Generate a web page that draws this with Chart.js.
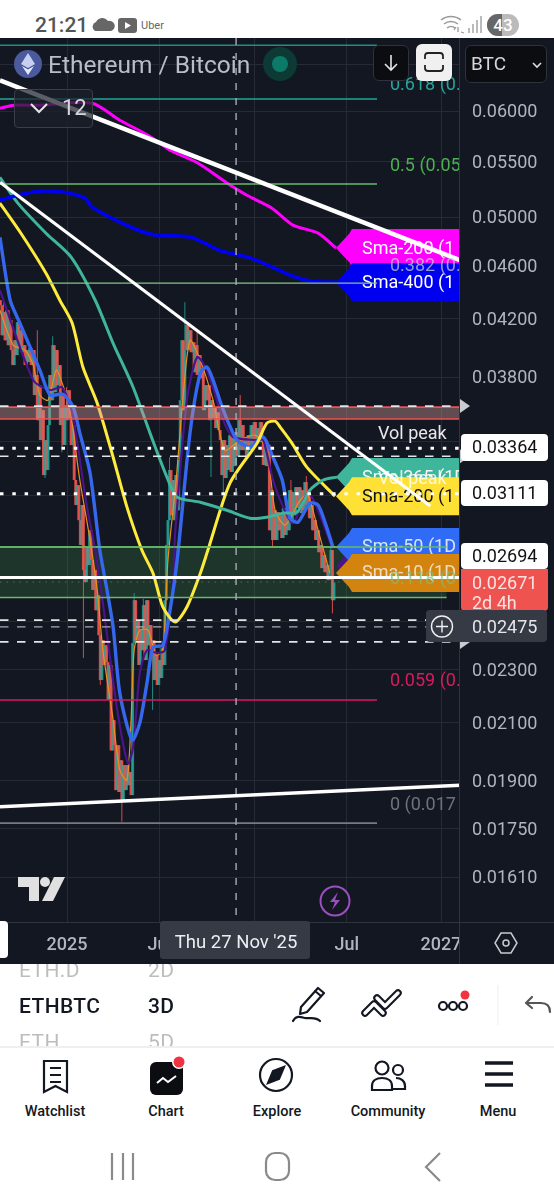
<!DOCTYPE html>
<html>
<head>
<meta charset="utf-8">
<title>ETHBTC</title>
<script src="https://cdn.jsdelivr.net/npm/chart.js@4/dist/chart.umd.min.js"></script>
<style>
  * { box-sizing: border-box; }
  html, body { margin: 0; padding: 0; background: #fff; font-family: Roboto, sans-serif; overflow: hidden; }
  #page { position: relative; width: 554px; height: 1200px; overflow: hidden; }
  #chartBox { position: absolute; left: 0; top: 38px; width: 554px; height: 926px; background: #131722; }
  canvas { display: block; }
  .abs { position: absolute; }
  .time { left: 35px; top: 13px; font-size: 21px; font-weight: 500; color: #555; }
  .uber { left: 141px; top: 19px; font-size: 11px; color: #666; }
  .pair { left: 48px; top: 50px; font-size: 24.5px; color: #b9bdc8; }
  .btn { border: 1px solid #2e323c; border-radius: 6px; background: #0c0d10; }
  .btc { left: 471px; top: 52px; font-size: 19px; color: #d6d8de; }
  .count { left: 14px; top: 89px; width: 79px; height: 39px; border: 1px solid #3a3e49; border-radius: 4px; background: rgba(28,32,42,.72); }
  .row { font-size: 21px; color: #131722; font-weight: 500; letter-spacing: .4px; }
  .ghost { color: #bdbdbd; font-weight: 400; }
  .nav { top: 1103px; width: 110px; text-align: center; font-size: 14.5px; font-weight: 500; color: #131722; }
</style>
</head>
<body>
<div id="page">
  <div class="abs time">21:21</div>
  <svg class="abs" style="left:92px;top:14px" width="50" height="22">
    <path d="M3 17a5 5 0 0 1 1-9 7 7 0 0 1 12-1 5 5 0 0 1 3 10z" fill="#666"/>
    <rect x="26" y="4" width="19" height="15" rx="3" fill="#666"/><path d="M33 8l6 3.5-6 3.5z" fill="#fff"/>
  </svg>
  <div class="abs uber">Uber</div>
  <svg class="abs" style="left:438px;top:12px" width="84" height="26">
    <g fill="none" stroke="#999" stroke-width="1.5"><path d="M3 8a16 16 0 0 1 20 0M6 12a11 11 0 0 1 14 0M9 16a6 6 0 0 1 8 0"/></g>
    <path d="M20 20v-5M23 20l3 1M16 18l2-3" stroke="#999" stroke-width="1.3"/>
    <g fill="#bbb"><rect x="30" y="16" width="2" height="5"/><rect x="34" y="12" width="2" height="9"/><rect x="38" y="8" width="2" height="13"/><rect x="42" y="4" width="2" height="17"/></g>
    <rect x="49" y="2" width="32" height="22" rx="11" fill="#bbb"/><path d="M60 2a11 11 0 0 0 0 22h4V2z" fill="#666"/>
    <text x="65" y="19" text-anchor="middle" font-family="Roboto" font-size="17" font-weight="500" fill="#fff">43</text>
  </svg>

  <div id="chartBox"><canvas id="chart" width="554" height="926"></canvas></div>

  <!-- header controls sitting over the plot -->
  <svg class="abs" style="left:13px;top:49px" width="30" height="30">
    <circle cx="15" cy="15" r="14" fill="#4a5a9c"/>
    <path d="M15 4l7 11-7 4-7-4z" fill="#c6d0f2"/><path d="M15 20.5l6-3.5-6 9-6-9z" fill="#e6ebfb"/>
  </svg>
  <div class="abs pair">Ethereum / Bitcoin</div>
  <svg class="abs" style="left:262px;top:46px" width="36" height="36">
    <circle cx="18" cy="18" r="17" fill="#0d3a34"/><circle cx="18" cy="18" r="8" fill="#0b7a68"/>
  </svg>
  <div class="abs btn" style="left:373px;top:45px;width:36px;height:36px"></div>
  <svg class="abs" style="left:381px;top:53px" width="20" height="20"><path d="M10 2v15M4 11l6 6 6-6" fill="none" stroke="#e6e6e6" stroke-width="1.6"/></svg>
  <div class="abs" style="left:416px;top:44px;width:36px;height:37px;border-radius:6px;background:#f0f0f0"></div>
  <svg class="abs" style="left:424px;top:52px" width="20" height="20"><path d="M1 7V4a3 3 0 0 1 3-3h12a3 3 0 0 1 3 3v3M1 13v3a3 3 0 0 0 3 3h12a3 3 0 0 0 3-3v-3" fill="none" stroke="#222" stroke-width="1.8"/></svg>
  <div class="abs btn" style="left:465px;top:45px;width:82px;height:38px"></div>
  <div class="abs btc">BTC</div>
  <svg class="abs" style="left:531px;top:60px" width="12" height="10"><path d="M2 3l4 4 4-4" fill="none" stroke="#ddd" stroke-width="1.6"/></svg>
  <div class="abs count"></div>
  <svg class="abs" style="left:30px;top:102px" width="18" height="14"><path d="M1 2l8 8 8-8" fill="none" stroke="#e6e6e6" stroke-width="2"/></svg>
  <div class="abs" style="left:62px;top:95px;font-size:22px;color:#d6d8de">12</div>

  <!-- watermark and replay badge -->
  <svg class="abs" style="left:18px;top:876px" width="48" height="27">
    <path d="M0 1h21v24h-10V11H0z" fill="#e0e0e0"/><circle cx="27" cy="6" r="5" fill="#e0e0e0"/><path d="M36 1h11L35 25H24z" fill="#e0e0e0"/>
  </svg>
  <svg class="abs" style="left:319px;top:885px" width="32" height="32">
    <circle cx="16" cy="16" r="14.5" fill="#131722" stroke="#9c4fc0" stroke-width="2"/>
    <path d="M19 7l-8 10h5l-3 8 8-10h-5z" fill="#9c4fc0"/>
  </svg>
  <div class="abs" style="left:0;top:921px;width:8px;height:37px;background:#fff;border-radius:0 4px 4px 0"></div>
  <svg class="abs" style="left:494px;top:931px" width="24" height="24"><path d="M7 2h10l6 10-6 10H7L1 12z" fill="none" stroke="#c8cad0" stroke-width="1.5"/><circle cx="12" cy="12" r="3" fill="none" stroke="#c8cad0" stroke-width="1.5"/></svg>

  <!-- symbol picker row -->
  <div class="abs" style="left:0;top:964px;width:290px;height:82px;overflow:hidden">
    <div class="abs row ghost" style="left:19px;top:-6px">ETH.D</div>
    <div class="abs row ghost" style="left:148px;top:-6px">2D</div>
    <div class="abs row" style="left:19px;top:30px">ETHBTC</div>
    <div class="abs row" style="left:148px;top:30px">3D</div>
    <div class="abs row ghost" style="left:19px;top:66px">ETH</div>
    <div class="abs row ghost" style="left:148px;top:66px">5D</div>
  </div>
  <svg class="abs" style="left:285px;top:985px" width="269" height="40">
    <g fill="none" stroke="#131722" stroke-width="2.2" stroke-linejoin="round" stroke-linecap="round">
      <path d="M16 22L33 3l6 5-17 19-7 2zM30 6l6 5"/>
      <path d="M8 36c3-6 8-4 12-3s10-2 15 3"/>
      <path d="M80 28l9-9 9 9M92 13l8 8 13-13" stroke-width="7.5"/>
      <path d="M80 28l9-9 9 9M92 13l8 8 13-13" stroke="#fff" stroke-width="3.4"/>
      <circle cx="158" cy="21" r="4"/><circle cx="168" cy="21" r="4"/><circle cx="178" cy="21" r="4"/>
      <path d="M247 12l-6 6 6 5M241 18h15c6 0 9 3 9 9" stroke="#555"/>
    </g>
    <circle cx="180" cy="10" r="4.5" fill="#ef3340"/>
    <path d="M213 0v40" stroke="#eee"/>
  </svg>
  <div class="abs" style="left:0;top:1046px;width:554px;height:2px;background:#efefef"></div>

  <!-- bottom navigation -->
  <svg class="abs" style="left:0;top:1055px" width="554" height="42">
    <g fill="none" stroke="#131722" stroke-width="2.2">
      <path d="M44 6h23v31l-11.500-6L44 37zM50 13h11M50 20h11M50 27h11"/>
      <circle cx="276" cy="20" r="16"/>
      <path d="M284 12l-5 12-11 4 5-12z" fill="#131722"/>
      <circle cx="382" cy="13" r="6.500"/><circle cx="398" cy="15" r="5"/>
      <path d="M372 35v-4c0-5 4-8 10-8s10 3 10 8v4zM396 23c5 0 9 3 9 8v3h-12"/>
    </g>
    <rect x="150" y="7" width="33" height="33" rx="6" fill="#0c0d10"/>
    <path d="M157 28l6-5 5 4 8-6" fill="none" stroke="#fff" stroke-width="2"/>
    <circle cx="179" cy="7" r="7" fill="#fff"/><circle cx="179" cy="7" r="5.500" fill="#ef3340"/>
    <path d="M485 8h28M485 19h28M485 30h28" stroke="#131722" stroke-width="3.500"/>
  </svg>
  <div class="abs nav" style="left:0">Watchlist</div>
  <div class="abs nav" style="left:111px">Chart</div>
  <div class="abs nav" style="left:222px">Explore</div>
  <div class="abs nav" style="left:333px">Community</div>
  <div class="abs nav" style="left:443px">Menu</div>
  <svg class="abs" style="left:100px;top:1150px" width="350" height="34">
    <g fill="none" stroke="#8a8a8a" stroke-width="2.2">
      <path d="M12 3v27M23 3v27M33 3v27"/>
      <rect x="166" y="3" width="23" height="27" rx="9"/>
      <path d="M340 3l-14 14 14 14"/>
    </g>
  </svg>
</div>

<script>
// ETH/BTC on 3-day bars; x is days counted from 1 Jan 2025
const firstBarDay = -130;
const barStep = 3;

const closes = [
  .04300,.04084,.04249,.04049,.04263,.04015,.04191,.03981,.03880,.04049,.03947,.04177,.03994,.04119,
  .03967,.04015,.03880,.03981,.03900,.03994,.03880,.03981,.03685,.03814,.03530,.03748,.03411,.03591,
  .03212,.03411,.03240,.03500,.03814,.03653,.04015,.03704,.03981,.03748,.03880,.03500,.03685,.03382,
  .03622,.03530,.03716,.03542,.03382,.03500,.03185,.03051,.03157,.02973,.02849,.03051,.02729,.02673,
  .02834,.02752,.02922,.02776,.02637,.02729,.02547,.02614,.02440,.02259,.02419,.02318,.02398,.02330,
  .02183,.02318,.02002,.02109,.02020,.01870,.02020,.01864,.01968,.01838,.01952,.01870,.01952,.01886,
  .01929,.01854,.02407,.02591,.02419,.02504,.02318,.02461,.02378,.02569,.02338,.02591,.02398,.02483,
  .02358,.02419,.02259,.02358,.02240,.02338,.02267,.02386,.02318,.02591,.02849,.02973,.03240,.02998,
  .03185,.02973,.03212,.03024,.03296,.03653,.04049,.03591,.03981,.04155,.03981,.04119,.03967,.04035,
  .03833,.04015,.03814,.03947,.03794,.03860,.03591,.03748,.03653,.03748,.03530,.03653,.03542,.03604,
  .03482,.03579,.03470,.03411,.03212,.03411,.03196,.03382,.03240,.03440,.03229,.03440,.03262,.03458,
  .03318,.03530,.03353,.03500,.03353,.03411,.03318,.03440,.03353,.03500,.03382,.03518,.03393,.03482,
  .03399,.03518,.03411,.03268,.03411,.03262,.03382,.02922,.03130,.02873,.03024,.02873,.03014,.02922,
  .02998,.02883,.03035,.02898,.03024,.02922,.03130,.02973,.03120,.02998,.03146,.03035,.03146,.03009,
  .03130,.03024,.03174,.03051,.03104,.02983,.03051,.02922,.02973,.02873,.02922,.02814,.02849,.02738,
  .02800,.02719,.02752,.02682,.02729,.02824,.02591,.02671
];
const firstOpen = .04337;

// wicks that reach clearly past the body
const wickBars  = [2, 24, 29, 34, 40, 43, 54, 65, 79, 87, 93, 99, 110, 120, 128, 137, 145, 156, 177, 189, 199, 215, 216];
const wickHighs = [.04337, .04119, null, .04077, null, .03735, null, null, null, .02623, .02598, null, .03312, .04322, .04119, null, null, .03685, null, .03185, .03207, .02839, null];
const wickLows  = [null, null, .03196, null, .03340, null, .02346, .02240, .01771, null, null, .02146, null, null, null, .03201, .03093, null, .02834, null, null, null, .02534];

// moving averages: day and price pairs
const sma400Days = [-131, -96, -55, -6, 35, 49, 125, 172, 242, 297, 359, 435, 476, 527];
const sma400Vals = [.05150, .05194, .05230, .05221, .05168, .05088, .04916, .04851, .04833, .04726, .04662, .04529, .04481, .04473];
const sma200wDays = [-131, -103, -53, 49, 103, 158, 201, 256, 310, 351, 400, 441, 490, 525];
const sma200wVals = [.06031, .06062, .06062, .06083, .05908, .05758, .05612, .05487, .05311, .05194, .05080, .04934, .04867, .04744];
const sma365Days = [-131, -96, -41, 8, 55, 90, 129, 162, 195, 215, 260, 312, 357, 390, 422, 449, 474, 500, 527];
const sma365Vals = [.05357, .05124, .04866, .04670, .04337, .04028, .03735, .03452, .03201, .03093, .03066, .03024, .02983, .02988, .03009, .03014, .03130, .03185, .03201];
const sma200Days = [-131, -90, -41, -14, 10, 31, 59, 90, 117, 146, 168, 187, 211, 234, 260, 275, 318, 371, 390, 406, 416, 439, 468, 523];
const sma200Vals = [.05124, .04866, .04543, .04337, .04170, .03867, .03634, .03312, .03040, .02824, .02713, .02561, .02496, .02561, .02713, .02824, .03168, .03393, .03512, .03524, .03488, .03393, .03256, .03098];
const sma50Days = [-131, -111, -92, -72, -53, -33, -8, 12, 25, 45, 64, 78, 90, 103, 127, 142, 156, 168, 187, 201, 215, 240, 260, 273, 285, 305, 332, 357, 383, 402, 420, 435, 451, 474, 490, 504, 519];
const sma50Vals = [.04833, .04337, .04170, .04001, .03847, .03685, .03691, .03610, .03452, .03223, .02824, .02637, .02474, .02209, .02038, .02098, .02247, .02390, .02398, .02547, .02776, .03452, .03827, .03867, .03781, .03591, .03411, .03370, .03429, .03312, .03185, .02983, .02963, .03061, .03051, .02958, .02839];
const sma20Days = [-131, -66, -33, -10, 10, 39, 55, 70, 98, 119, 129, 142, 156, 176, 191, 207, 211, 234, 254, 273, 305, 324, 371, 383, 402, 422, 441, 470, 490, 517];
const sma20Vals = [.04412, .03781, .03716, .03735, .03573, .03040, .02824, .02578, .02146, .01958, .02013, .02286, .02378, .02366, .02378, .02669, .02907, .03653, .03933, .03847, .03530, .03429, .03411, .03411, .03185, .03040, .02958, .03115, .03024, .02839];
const sma10Days = [-131, -105, -82, -66, -53, -37, -21, -8, 6, 25, 45, 59, 70, 90, 103, 117, 125, 131, 142, 158, 174, 187, 197, 213, 226, 240, 260, 285, 308, 338, 367, 390, 406, 426, 455, 470, 490, 513];
const sma10Vals = [.04263, .04015, .03981, .03880, .03685, .03653, .03847, .03748, .03591, .03185, .02873, .02637, .02378, .02109, .01935, .01902, .02109, .02378, .02461, .02461, .02358, .02378, .02776, .03185, .03653, .04049, .03913, .03653, .03353, .03411, .03440, .03353, .03024, .02948, .03077, .03104, .02922, .02715];

// drawn trend lines, [left price, right price]
const upperTrend = [.06328, .04646];
const innerTrend = [.05311, .03046];
const innerTrendEndDay = 709;
const lowerTrend = [.01817, .01886];

// fib levels and drawn price levels
const fibLevels = { f618: .06127, f618b: .06720, f5: .05295, f382: .04466, f059: .02183, f0: .01767 };
const supplyBand = [.03610, .03537];
const demandBand = [.02839, .02603];
const dashedLevels = [.03616, .03318, .02504, .02412];
const dottedLevels = [.03364, .03111];
const lastLevel = .02694;
const crossPrice = .02475;
const crossDay = 330;

const priceTicks = [.065, .06, .055, .05, .046, .042, .038, .034, .031, .027, .025, .023, .021, .019, .0175, .0161];
const timeTicks = [0, 181, 365, 546, 730];
const timeLabels = ['2025', 'Jul', '2026', 'Jul', '2027'];

const xMin = -130.8, xMax = 767;
const fibEndDay = 605, demandEndDay = 741;
const font = 'Roboto';
const bear = 'rgba(242,84,80,.86)', bull = 'rgba(38,166,154,.8)';

const barDays = closes.map((c, i) => firstBarDay + i * barStep);
const opens = closes.map((c, i) => i ? closes[i - 1] : firstOpen);
const colors = closes.map((c, i) => c >= opens[i] ? bull : bear);
const bodies = closes.map((c, i) => ({ x: barDays[i], y: [opens[i], c] }));
const wicks = closes.map((c, i) => {
  const k = wickBars.indexOf(i);
  const hi = Math.max(c, opens[i]), lo = Math.min(c, opens[i]);
  return { x: barDays[i], y: [k >= 0 && wickLows[k] ? wickLows[k] : lo, k >= 0 && wickHighs[k] ? wickHighs[k] : hi] };
});

function curve(label, days, vals, color, width) {
  return {
    type: 'line', label: label, data: days.map((d, i) => ({ x: d, y: vals[i] })),
    borderColor: color, borderWidth: width, pointRadius: 0, tension: 0.25, fill: false
  };
}

function segment(label, x0, y0, x1, y1, color, width, dash) {
  return {
    type: 'line', label: label, data: [{ x: x0, y: y0 }, { x: x1, y: y1 }],
    borderColor: color, borderWidth: width, borderDash: dash || [], pointRadius: 0, fill: false
  };
}

function band(label, endDay, vals, line, area) {
  const d = segment(label, xMin, vals[0], endDay, vals[0], line, 1.6);
  d.fill = { value: vals[1] };
  d.backgroundColor = area;
  return d;
}

// listed in paint order, the order field is filled in below
const datasets = [
  band('demand', demandEndDay, demandBand, '#66bb6a', 'rgba(76,175,80,.2)'),
  { type: 'bar', label: 'wicks', data: wicks, backgroundColor: colors, barThickness: 1, grouped: false, inflateAmount: 0 },
  { type: 'bar', label: 'bodies', data: bodies, backgroundColor: colors, barThickness: 3, grouped: false, inflateAmount: 0 },
  curve('Sma-10', sma10Days, sma10Vals, '#e8921c', 1.2),
  curve('Sma-20', sma20Days, sma20Vals, '#4a148c', 2.2),
  curve('Sma-50', sma50Days, sma50Vals, '#3568ee', 3.4),
  curve('Sma-200', sma200Days, sma200Vals, '#ffeb3b', 3),
  curve('Sma-365', sma365Days, sma365Vals, '#3fb59b', 3),
  curve('Sma-400', sma400Days, sma400Vals, '#0000f0', 3.6),
  curve('Sma-200W', sma200wDays, sma200wVals, '#ff00ff', 3),
  segment('f618b', xMin, fibLevels.f618b, fibEndDay, fibLevels.f618b, '#1f8f83', 1.4),
  segment('f618', xMin, fibLevels.f618, fibEndDay, fibLevels.f618, '#26a69a', 1.4),
  segment('f5', xMin, fibLevels.f5, fibEndDay, fibLevels.f5, '#66bb6a', 1.4),
  segment('f382', xMin, fibLevels.f382, fibEndDay, fibLevels.f382, '#81c784', 1.4),
  segment('f059', xMin, fibLevels.f059, fibEndDay, fibLevels.f059, '#d81b60', 1.4),
  segment('f0', xMin, fibLevels.f0, fibEndDay, fibLevels.f0, '#787b86', 1.6),
  band('supply', xMax, supplyBand, '#ef5350', 'rgba(205,150,150,.42)'),
  segment('supplyLow', xMin, supplyBand[1], xMax, supplyBand[1], '#ef5350', 1.6),
  segment('demandHigh', xMin, demandBand[0], demandEndDay, demandBand[0], '#66bb6a', 1.6),
  segment('demandLow', xMin, demandBand[1], demandEndDay, demandBand[1], '#66bb6a', 1.6),
  segment('mid', xMin, .02673, demandEndDay, .02673, 'rgba(120,160,120,.55)', 1, [1.5, 5]),
  ...dashedLevels.map((v, i) => segment('dash' + i, xMin, v, xMax, v, '#e4e4e4', 1.6, [8.5, 8.5])),
  ...dottedLevels.map((v, i) => segment('dot' + i, xMin, v, xMax, v, '#ffffff', 3, [3.5, 8.800])),
  segment('cross', xMin, crossPrice, xMax, crossPrice, '#a8abb4', 1.4, [8.5, 8.5]),
  segment('crossV', crossDay, .06804, crossDay, .01491, '#a8abb4', 1.4, [7, 8]),
  segment('upper', xMin, upperTrend[0], xMax, upperTrend[1], '#ffffff', 4.5),
  segment('inner', xMin, innerTrend[0], innerTrendEndDay, innerTrend[1], '#ffffff', 3),
  segment('lower', xMin, lowerTrend[0], xMax, lowerTrend[1], '#ffffff', 3.5),
  segment('last', xMin, lastLevel, xMax, lastLevel, '#ffffff', 3)
];
datasets.forEach((d, i) => { d.order = datasets.length - i; });

// name tags at the tip of each moving average, painted before the drawn levels
const maTags = [
  ['Sma-365 (1D', sma365Vals, '#3fb59b', '#f4f4f4'],
  ['Sma-200 (1', sma200Vals, '#ffe135', '#111'],
  ['Sma-200 (1', sma200wVals, '#ff00ff', '#fff'],
  ['Sma-400 (1', sma400Vals, '#0000f0', '#fff'],
  ['', [.02750], '#4a148c', '#fff'],
  ['Sma-50 (1D', sma50Vals, '#2f6bf5', '#d9e4ff'],
  ['Sma-10 (1D', sma10Vals, '#d2840f', '#f2dcc0']
];

const tagPlugin = {
  id: 'tags',
  afterDatasetDraw(chart, args) {
    if (chart.data.datasets[args.index].label !== 'Sma-200W') return;
    const ctx = chart.ctx, y = chart.scales.y, area = chart.chartArea;
    ctx.save();
    ctx.beginPath(); ctx.rect(0, 0, area.right - 1, area.bottom); ctx.clip();
    ctx.font = '18px ' + font; ctx.textBaseline = 'middle'; ctx.textAlign = 'left';
    maTags.forEach(t => {
      const py = y.getPixelForValue(t[1][t[1].length - 1]);
      ctx.fillStyle = t[2];
      ctx.beginPath();
      ctx.moveTo(336, py); ctx.lineTo(349, py - 14); ctx.lineTo(352, py - 19); ctx.lineTo(460, py - 19);
      ctx.lineTo(460, py + 19); ctx.lineTo(352, py + 19); ctx.lineTo(349, py + 14); ctx.closePath();
      ctx.fill();
      ctx.fillStyle = t[3];
      ctx.fillText(t[0], 362, py + 1);
    });
    ctx.restore();
  }
};

// level captions: text, price, lift above the level, colour
const fibLabels = [
  ['0.618 (0.', fibLevels.f618, 14, '#26a69a'],
  ['0.5 (0.05', fibLevels.f5, 18, '#4caf50'],
  ['0.382 (0.', fibLevels.f382, 17, 'rgba(190,205,200,.75)'],
  ['0.118 (0', .02673, 3, 'rgba(130,190,110,.75)'],
  ['0.059 (0.', fibLevels.f059, 18, '#d81b60'],
  ['0 (0.017', fibLevels.f0, 18, '#6f727c']
];
const volLabels = [['Vol peak', .03364, 14, '#e8e8e8'], ['Vol peak', .03111, 14, 'rgba(255,255,255,.8)']];

// price boxes on the axis: text, top, height, fill, ink
const priceBoxes = [
  ['0.03364', 396, 27, '#ffffff', '#111'],
  ['0.03111', 442, 26, '#ffffff', '#111'],
  ['0.02694', 505, 26, '#ffffff', '#111']
];
const handlePrices = [.03616, .03318, .02412];

function roundBox(ctx, x, y, w, h, r) {
  ctx.beginPath(); ctx.roundRect(x, y, w, h, r); ctx.fill();
}

const overlayPlugin = {
  id: 'overlay',
  afterDatasetsDraw(chart) {
    const ctx = chart.ctx, y = chart.scales.y, area = chart.chartArea;
    ctx.save();
    ctx.beginPath(); ctx.rect(0, 0, area.right - 1, area.bottom); ctx.clip();
    ctx.font = '18px ' + font; ctx.textBaseline = 'middle'; ctx.textAlign = 'left';
    fibLabels.forEach(l => { ctx.fillStyle = l[3]; ctx.fillText(l[0], 390, y.getPixelForValue(l[1]) - l[2]); });
    volLabels.forEach(l => { ctx.fillStyle = l[3]; ctx.fillText(l[0], 378, y.getPixelForValue(l[1]) - l[2]); });
    ctx.restore();
  },
  afterDraw(chart) {
    const ctx = chart.ctx, y = chart.scales.y, x = chart.scales.x, area = chart.chartArea;
    ctx.save();
    // time labels stop at the price column
    ctx.fillStyle = '#131722';
    ctx.fillRect(area.right, area.bottom + 1, 94, 41);
    ctx.fillStyle = '#2f333e';
    ctx.fillRect(area.right - 1, 0, 1, 926);
    ctx.fillRect(0, area.bottom, 554, 1);

    ctx.fillStyle = '#c9cbd0';
    handlePrices.forEach(p => {
      const py = y.getPixelForValue(p);
      ctx.beginPath(); ctx.moveTo(460, py - 7); ctx.lineTo(470, py); ctx.lineTo(460, py + 7); ctx.fill();
    });

    ctx.textBaseline = 'middle'; ctx.textAlign = 'left'; ctx.font = '18px ' + font;
    priceBoxes.forEach(b => {
      ctx.fillStyle = b[3]; roundBox(ctx, area.right + 1, b[1], 87, b[2], 4);
      ctx.fillStyle = b[4]; ctx.fillText(b[0], 472, b[1] + b[2] / 2 + 1);
    });

    // current price box with bar countdown
    ctx.fillStyle = '#ef5350'; roundBox(ctx, area.right + 1, 531, 87, 42, [0, 0, 4, 4]);
    ctx.fillStyle = '#fbe3e3'; ctx.fillText(closes[closes.length - 1].toFixed(5), 472, 546);
    ctx.fillText('2d 4h', 472, 566);

    // crosshair price box
    ctx.fillStyle = '#363a45'; roundBox(ctx, 426, 572, 121, 32, 4);
    ctx.fillStyle = '#e4e6ea'; ctx.fillText(crossPrice.toFixed(5), 472, 590);
    ctx.strokeStyle = '#f0f0f0'; ctx.lineWidth = 1.4;
    ctx.beginPath(); ctx.arc(442, 588.5, 10.500, 0, Math.PI * 2);
    ctx.moveTo(436, 588.5); ctx.lineTo(448, 588.5); ctx.moveTo(442, 582.5); ctx.lineTo(442, 594.5); ctx.stroke();

    // crosshair date box
    const cx = x.getPixelForValue(crossDay);
    ctx.fillStyle = '#363a45'; roundBox(ctx, 160, area.bottom - 1, 150, 38, 3);
    ctx.fillStyle = '#eceef2'; ctx.textAlign = 'center'; ctx.font = '18.500px ' + font;
    ctx.fillText("Thu 27 Nov '25", cx, area.bottom + 21);
    ctx.restore();
  }
};

new Chart(document.getElementById('chart').getContext('2d'), {
  type: 'bar',
  data: { datasets: datasets },
  plugins: [tagPlugin, overlayPlugin],
  options: {
    responsive: false,
    animation: false,
    devicePixelRatio: 1,
    layout: { padding: 0 },
    plugins: { legend: { display: false }, tooltip: { enabled: false } },
    scales: {
      x: {
        type: 'linear', min: xMin, max: xMax, offset: false,
        grid: { color: '#262a35', offset: false, drawTicks: false, tickLength: 0 },
        border: { display: false },
        afterBuildTicks(scale) { scale.ticks = timeTicks.map(v => ({ value: v })); },
        afterFit(scale) { scale.height = 42; scale.paddingLeft = 0; scale.paddingRight = 0; },
        ticks: {
          autoSkip: false, maxRotation: 0, padding: 13, color: '#b2b5be',
          font: { family: font, size: 18, weight: '500' },
          callback: v => timeLabels[timeTicks.indexOf(v)]
        }
      },
      y: {
        type: 'logarithmic', position: 'right', min: .01491, max: .06804,
        grid: { color: '#262a35', drawTicks: false, tickLength: 0 },
        border: { display: false },
        afterBuildTicks(scale) { scale.ticks = priceTicks.map(v => ({ value: v })); },
        afterFit(scale) { scale.width = 94; scale.paddingTop = 0; scale.paddingBottom = 0; },
        ticks: {
          autoSkip: false, padding: 12, color: '#b2b5be', crossAlign: 'near',
          font: { family: font, size: 18, lineHeight: '3px' },
          // blank first line nudges the label down onto its grid line
          callback: v => ['', v.toFixed(5)]
        }
      }
    }
  }
});
</script>
</body>
</html>
